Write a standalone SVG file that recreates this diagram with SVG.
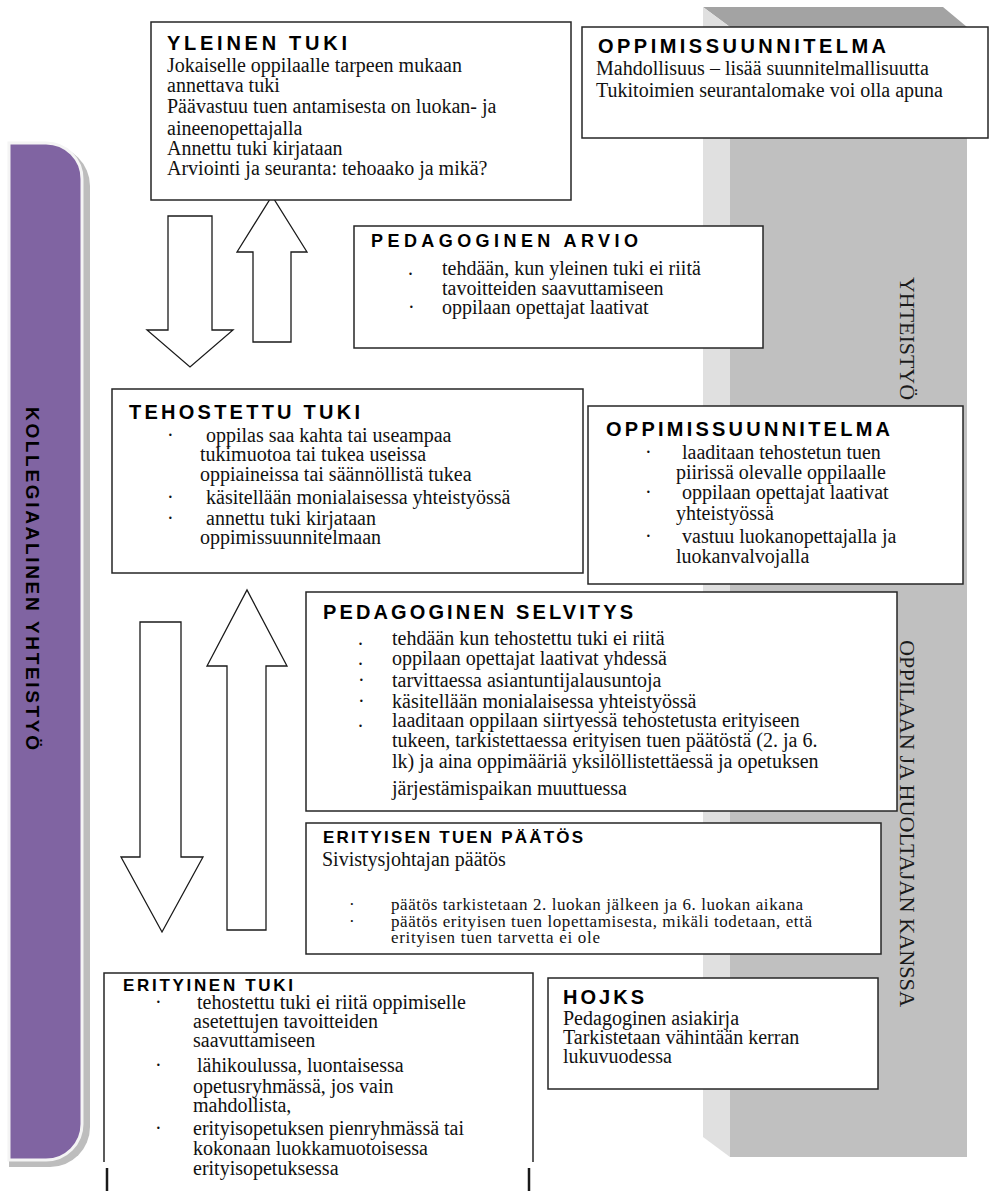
<svg xmlns="http://www.w3.org/2000/svg" width="989" height="1191" viewBox="0 0 989 1191">
<style>
.box{fill:#fff;stroke:#262626;stroke-width:1.5}
.ttl{font-family:"Liberation Sans",Arial,sans-serif;font-weight:bold;fill:#000}
.txt{font-family:"Liberation Serif","Times New Roman",serif;font-size:20px;fill:#111}
.sm{font-size:17px}
.arrow{fill:#fff;stroke:#1a1a1a;stroke-width:1.3}
.vt{font-family:"Liberation Serif","Times New Roman",serif;font-size:22px;fill:#1a1a1a}
</style>
<rect width="989" height="1191" fill="#fff"/>
<g id="band">
<polygon points="703,7 943,7 967,27 730,27" fill="#a3a3a3"/>
<polygon points="703,7 730,27 730,1157 703,1137" fill="#e0e0e0"/>
<rect x="730" y="27" width="237" height="1130" fill="#c0c0c0"/>
<text class="vt" transform="translate(900,277) rotate(90)" textLength="123" lengthAdjust="spacingAndGlyphs">YHTEISTYÖ</text>
<text class="vt" transform="translate(900,640) rotate(90)" textLength="367" lengthAdjust="spacingAndGlyphs">OPPILAAN JA HUOLTAJAN KANSSA</text>
</g>
<g id="kollegiaalinen">
<path d="M9,146 H50 A40,40 0 0 1 90,186 V1127 A40,40 0 0 1 50,1167 H9 Z" fill="#bdbdbd"/>
<path d="M9,143 H46 A36,36 0 0 1 82,179 V1124 A36,36 0 0 1 46,1160 H9 Z" fill="#8064a2" stroke="#f4f4f4" stroke-width="3"/>
<text class="ttl" font-size="19" transform="translate(26,407) rotate(90)" textLength="343" lengthAdjust="spacing">KOLLEGIAALINEN YHTEISTYÖ</text>
</g>
<g id="connectors">
<polygon class="arrow" points="168,216 212,216 212,330 233,330 190,367 147,330 168,330"/>
<polygon class="arrow" points="253,342 291,342 291,252 307,252 272,196 237,252 253,252"/>
<polygon class="arrow" points="140,622 181,622 181,857 203,857 162,932 121,857 140,857"/>
<polygon class="arrow" points="227,930 266,930 266,666 287,666 247,590 207,666 227,666"/>
</g>
<g id="yleinen-tuki">
<rect class="box" x="151" y="22" width="420" height="178"/>
<text class="ttl" font-size="20" x="167" y="50" textLength="180" lengthAdjust="spacing">YLEINEN TUKI</text>
<text class="txt" x="167" y="72">Jokaiselle oppilaalle tarpeen mukaan</text>
<text class="txt" x="167" y="92">annettava tuki</text>
<text class="txt" x="167" y="113">Päävastuu tuen antamisesta on luokan- ja</text>
<text class="txt" x="167" y="135">aineenopettajalla</text>
<text class="txt" x="167" y="155">Annettu tuki kirjataan</text>
<text class="txt" x="167" y="175">Arviointi ja seuranta: tehoaako ja mikä?</text>
</g>
<g id="oppimissuunnitelma-1">
<rect class="box" x="582" y="27" width="406" height="111"/>
<text class="ttl" font-size="20" x="598" y="53" textLength="288" lengthAdjust="spacing">OPPIMISSUUNNITELMA</text>
<text class="txt" x="596" y="75">Mahdollisuus – lisää suunnitelmallisuutta</text>
<text class="txt" x="596" y="97">Tukitoimien seurantalomake voi olla apuna</text>
</g>
<g id="pedagoginen-arvio">
<rect class="box" x="354" y="226" width="409" height="122"/>
<text class="ttl" font-size="18" x="371" y="247" textLength="267" lengthAdjust="spacing">PEDAGOGINEN ARVIO</text>
<text class="txt" x="408" y="275">.</text>
<text class="txt" x="442" y="275">tehdään, kun yleinen tuki ei riitä</text>
<text class="txt" x="442" y="295">tavoitteiden saavuttamiseen</text>
<text class="txt" x="408" y="314">·</text>
<text class="txt" x="442" y="314">oppilaan opettajat laativat</text>
</g>
<g id="tehostettu-tuki">
<rect class="box" x="112" y="389" width="471" height="184"/>
<text class="ttl" font-size="20" x="129" y="419" textLength="231" lengthAdjust="spacing">TEHOSTETTU TUKI</text>
<text class="txt" x="167" y="442">·</text>
<text class="txt" x="206" y="442">oppilas saa kahta tai useampaa</text>
<text class="txt" x="200" y="461">tukimuotoa tai tukea useissa</text>
<text class="txt" x="200" y="481">oppiaineissa tai säännöllistä tukea</text>
<text class="txt" x="167" y="504">·</text>
<text class="txt" x="206" y="504">käsitellään monialaisessa yhteistyössä</text>
<text class="txt" x="167" y="525">·</text>
<text class="txt" x="206" y="525">annettu tuki kirjataan</text>
<text class="txt" x="200" y="544">oppimissuunnitelmaan</text>
</g>
<g id="oppimissuunnitelma-2">
<rect class="box" x="588" y="406" width="375" height="178"/>
<text class="ttl" font-size="20" x="606" y="436" textLength="284" lengthAdjust="spacing">OPPIMISSUUNNITELMA</text>
<text class="txt" x="645" y="459">·</text>
<text class="txt" x="682" y="459">laaditaan tehostetun tuen</text>
<text class="txt" x="676" y="479">piirissä olevalle oppilaalle</text>
<text class="txt" x="645" y="499">·</text>
<text class="txt" x="682" y="499">oppilaan opettajat laativat</text>
<text class="txt" x="676" y="520">yhteistyössä</text>
<text class="txt" x="645" y="543">·</text>
<text class="txt" x="682" y="543">vastuu luokanopettajalla ja</text>
<text class="txt" x="676" y="563">luokanvalvojalla</text>
</g>
<g id="pedagoginen-selvitys">
<rect class="box" x="306" y="592" width="591" height="219"/>
<text class="ttl" font-size="20" x="323" y="619" textLength="310" lengthAdjust="spacing">PEDAGOGINEN SELVITYS</text>
<text class="txt" x="358" y="645">.</text>
<text class="txt" x="392" y="645">tehdään kun tehostettu tuki ei riitä</text>
<text class="txt" x="358" y="665">.</text>
<text class="txt" x="392" y="665">oppilaan opettajat laativat yhdessä</text>
<text class="txt" x="358" y="687">·</text>
<text class="txt" x="392" y="687">tarvittaessa asiantuntijalausuntoja</text>
<text class="txt" x="358" y="708">·</text>
<text class="txt" x="392" y="708">käsitellään monialaisessa yhteistyössä</text>
<text class="txt" x="358" y="727">.</text>
<text class="txt" x="392" y="727">laaditaan oppilaan siirtyessä tehostetusta erityiseen</text>
<text class="txt" x="392" y="747">tukeen, tarkistettaessa erityisen tuen päätöstä (2. ja 6.</text>
<text class="txt" x="392" y="768">lk) ja aina oppimääriä yksilöllistettäessä ja opetuksen</text>
<text class="txt" x="392" y="795">järjestämispaikan muuttuessa</text>
</g>
<g id="erityisen-tuen-paatos">
<rect class="box" x="306" y="823" width="575" height="131"/>
<text class="ttl" font-size="17" x="323" y="843" textLength="260" lengthAdjust="spacing">ERITYISEN TUEN PÄÄTÖS</text>
<text class="txt" x="322" y="866">Sivistysjohtajan päätös</text>
<text class="txt sm" x="349" y="910">·</text>
<text class="txt sm" x="391" y="910" textLength="412" lengthAdjust="spacing">päätös tarkistetaan 2. luokan jälkeen ja 6. luokan aikana</text>
<text class="txt sm" x="349" y="927">·</text>
<text class="txt sm" x="391" y="927" textLength="421" lengthAdjust="spacing">päätös erityisen tuen lopettamisesta, mikäli todetaan, että</text>
<text class="txt sm" x="391" y="943" textLength="209" lengthAdjust="spacing">erityisen tuen tarvetta ei ole</text>
</g>
<g id="erityinen-tuki">
<path d="M104,1162 V973 H533 V1162" fill="#fff" stroke="#262626" stroke-width="1.5"/>
<line x1="107" y1="1168" x2="107" y2="1191" stroke="#1a1a1a" stroke-width="2.5"/>
<line x1="529" y1="1168" x2="529" y2="1191" stroke="#1a1a1a" stroke-width="2.5"/>
<text class="ttl" font-size="17" x="123" y="991" textLength="170" lengthAdjust="spacing">ERITYINEN TUKI</text>
<text class="txt" x="155" y="1009">·</text>
<text class="txt" x="197" y="1009">tehostettu tuki ei riitä oppimiselle</text>
<text class="txt" x="193" y="1028">asetettujen tavoitteiden</text>
<text class="txt" x="193" y="1047">saavuttamiseen</text>
<text class="txt" x="155" y="1072">·</text>
<text class="txt" x="197" y="1072">lähikoulussa, luontaisessa</text>
<text class="txt" x="193" y="1093">opetusryhmässä, jos vain</text>
<text class="txt" x="193" y="1112">mahdollista,</text>
<text class="txt" x="155" y="1135">·</text>
<text class="txt" x="193" y="1135">erityisopetuksen pienryhmässä tai</text>
<text class="txt" x="193" y="1155">kokonaan luokkamuotoisessa</text>
<text class="txt" x="193" y="1175">erityisopetuksessa</text>
</g>
<g id="hojks">
<rect class="box" x="548" y="978" width="330" height="111"/>
<text class="ttl" font-size="20" x="563" y="1004" textLength="81" lengthAdjust="spacing">HOJKS</text>
<text class="txt" x="563" y="1025">Pedagoginen asiakirja</text>
<text class="txt" x="563" y="1044">Tarkistetaan vähintään kerran</text>
<text class="txt" x="563" y="1063">lukuvuodessa</text>
</g>
</svg>
